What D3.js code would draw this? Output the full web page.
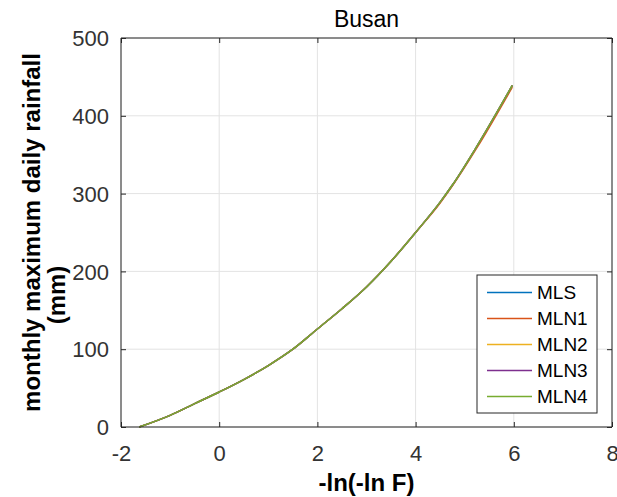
<!DOCTYPE html>
<html>
<head>
<meta charset="utf-8">
<script src="https://cdn.jsdelivr.net/npm/d3@7"></script>
<style>
  html, body { margin: 0; padding: 0; background: #fff; }
  svg { display: block; font-family: "Liberation Sans", Arial, Helvetica, sans-serif; }
</style>
</head>
<body>
<svg id="chart" width="617" height="497"></svg>
<script>
// ---- data ----
const titleText = "Busan";
const xLabel = "-ln(-ln F)";
const yLabelLines = ["monthly maximum daily rainfall", "(mm)"];
const seriesNames = ["MLS", "MLN1", "MLN2", "MLN3", "MLN4"];
const seriesColors = ["#0072BD", "#D95319", "#EDB120", "#7E2F8E", "#77AC30"];
const xTicks = [-2, 0, 2, 4, 6, 8];
const yTicks = [0, 100, 200, 300, 400, 500];

// reduced variate
const gumbelX = [-1.63, -1.0, -0.5, 0.0, 0.5, 1.0, 1.5, 2.0, 2.5, 3.0, 3.5, 4.0, 4.5, 4.75, 5.25, 5.97];
const mlsY  = [0, 15, 30, 45, 61, 79, 100, 126, 152, 180, 213, 250, 289, 311, 361, 439];
const mln1Y = [0, 15, 30, 45, 61, 79, 100, 126, 152, 180, 213, 250, 288, 310, 359, 437];
const mln2Y = [0, 15, 30, 45, 61, 79, 100, 126, 152, 180, 213, 250, 289, 311, 361, 439];
const mln3Y = [0, 15, 30, 45, 61, 79, 100, 126, 152, 180, 213, 250, 289, 311, 361, 439];
const mln4Y = [0, 15, 30, 45, 61, 79, 100, 126, 152, 180, 213, 250, 289, 311, 361, 439];
const seriesValues = [mlsY, mln1Y, mln2Y, mln3Y, mln4Y];

// ---- layout ----
const svg = d3.select("#chart");
const L = 121, R = 612, T = 38, B = 427;
const x = d3.scaleLinear().domain([-2, 8]).range([L, R]);
const y = d3.scaleLinear().domain([0, 500]).range([B, T]);
const axisColor = "#262626";
const tickColor = "#333333";

// grid
const g = svg.append("g");
g.selectAll("line.gx").data(xTicks).enter().append("line")
  .attr("x1", d => x(d)).attr("x2", d => x(d)).attr("y1", T).attr("y2", B)
  .attr("stroke", "#e3e3e3").attr("stroke-width", 1);
g.selectAll("line.gy").data(yTicks).enter().append("line")
  .attr("x1", L).attr("x2", R).attr("y1", d => y(d)).attr("y2", d => y(d))
  .attr("stroke", "#e3e3e3").attr("stroke-width", 1);

// lines
const line = d3.line().x((d, i) => x(gumbelX[i])).y(d => y(d)).curve(d3.curveMonotoneX);
seriesValues.forEach((vals, k) => {
  svg.append("path").datum(vals).attr("d", line)
    .attr("fill", "none").attr("stroke", seriesColors[k]).attr("stroke-width", 1.5);
});

// axes
const tickLen = -5;
const fmt = d => String(d);
const xAxis = d3.axisBottom(x).tickValues(xTicks).tickSize(tickLen).tickPadding(18).tickFormat(fmt);
const yAxis = d3.axisLeft(y).tickValues(yTicks).tickSize(tickLen).tickPadding(12).tickFormat(fmt);
const xTop = d3.axisTop(x).tickValues(xTicks).tickSize(tickLen).tickFormat("");
const yRight = d3.axisRight(y).tickValues(yTicks).tickSize(tickLen).tickFormat("");

function styleAxis(sel) {
  sel.selectAll("path").attr("stroke", axisColor).attr("stroke-width", 1);
  sel.selectAll("line").attr("stroke", axisColor).attr("stroke-width", 1);
  sel.selectAll("text").attr("fill", tickColor).style("font-size", "22px")
    .style("font-family", '"Liberation Sans", Arial, sans-serif');
}
svg.append("g").attr("transform", `translate(0,${B})`).call(xAxis).call(styleAxis)
  .call(s => s.select(".domain").attr("d", `M${L},0H${R}`));
svg.append("g").attr("transform", `translate(${L},0)`).call(yAxis).call(styleAxis)
  .call(s => s.select(".domain").attr("d", `M0,${B}V${T}`))
  .call(s => s.selectAll("text").attr("dy", "0.35em"));
svg.append("g").attr("transform", `translate(0,${T})`).call(xTop).call(styleAxis)
  .call(s => s.select(".domain").attr("d", `M${L},0H${R}`));
svg.append("g").attr("transform", `translate(${R},0)`).call(yRight).call(styleAxis)
  .call(s => s.select(".domain").attr("d", `M0,${B}V${T}`));

// title
svg.append("text").attr("x", (L + R) / 2).attr("y", 27).attr("text-anchor", "middle")
  .attr("fill", "#000").style("font-size", "23px").text(titleText);

// x label
svg.append("text").attr("x", (L + R) / 2).attr("y", 491).attr("text-anchor", "middle")
  .attr("fill", "#000").style("font-size", "24px").style("font-weight", "bold").text(xLabel);

// y label
const ylCenters = [(T + B) / 2, 295];
yLabelLines.forEach((t, i) => {
  svg.append("text").attr("transform", `translate(${40 + i * 25},${ylCenters[i]}) rotate(-90)`)
    .attr("text-anchor", "middle").attr("fill", "#000")
    .style("font-size", "24px").style("font-weight", "bold").text(t);
});

// legend
const lg = svg.append("g");
const lgX = 477, lgY = 275, lgW = 120, lgH = 138;
lg.append("rect").attr("x", lgX).attr("y", lgY).attr("width", lgW).attr("height", lgH)
  .attr("fill", "#fff").attr("stroke", axisColor).attr("stroke-width", 1);
seriesNames.forEach((n, i) => {
  const yy = lgY + 17.5 + i * 26;
  lg.append("line").attr("x1", lgX + 10).attr("x2", lgX + 55).attr("y1", yy).attr("y2", yy)
    .attr("stroke", seriesColors[i]).attr("stroke-width", 1.5);
  lg.append("text").attr("x", lgX + 60).attr("y", yy).attr("dy", "0.35em")
    .attr("fill", "#000").style("font-size", "19px").text(n);
});
</script>
</body>
</html>
